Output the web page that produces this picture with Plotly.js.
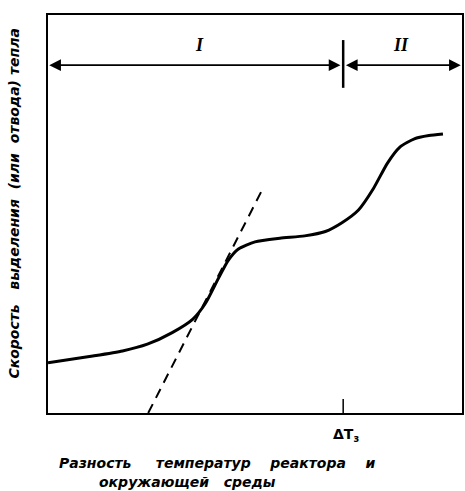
<!DOCTYPE html>
<html><head><meta charset="utf-8">
<script src="https://cdn.plot.ly/plotly-3.0.1.min.js"></script>
<style>html,body{margin:0;padding:0;background:#fff}#chart{width:465px;height:491px}</style>
</head><body><div id="chart"></div>
<script>
// Heat release curve (arbitrary units, x: 0..100, y: 0..100)
const curveX = [0, 10, 18, 24, 30, 35, 38, 41, 43.5, 46, 50, 56, 62, 67, 71, 75, 78.5, 82, 85, 88.5, 92, 95.4];
const curveY = [12.6, 14.2, 15.6, 17.3, 20.2, 23.6, 27.5, 33.5, 38.3, 41.2, 43.0, 43.9, 44.5, 45.6, 47.8, 51.0, 56.2, 62.8, 66.8, 68.9, 69.7, 70.1];
// Tangent (dashed)
const tangentX = [24.2, 51.7];
const tangentY = [0, 56.0];
// Regions
const regionLabels = ['I', 'II'];
const regionStart = 0, regionSplit = 71.3, regionEnd = 100;
const arrowY = 87.4;
const criticalLabel = 'ΔT<sub>з</sub>';

const FONT = 'DejaVu Sans';
const traces = [
  {x: curveX, y: curveY, mode: 'lines', line: {color: '#000', width: 3, shape: 'spline', smoothing: 0.6}, hoverinfo: 'skip'},
  {x: tangentX, y: tangentY, mode: 'lines', line: {color: '#000', width: 2, dash: '10px,7px'}, hoverinfo: 'skip'}
];

const arrowCommon = {xref: 'x', yref: 'y', axref: 'x', ayref: 'y', text: '', showarrow: true,
  arrowhead: 2, startarrowhead: 2, arrowside: 'end+start', arrowsize: 1.3, arrowwidth: 1.8, arrowcolor: '#000'};

const layout = {
  width: 465, height: 491,
  margin: {l: 48, r: 3, t: 15, b: 78},
  paper_bgcolor: '#fff', plot_bgcolor: '#fff',
  showlegend: false,
  xaxis: {range: [0, 100], showgrid: false, zeroline: false, showticklabels: false, ticks: '',
          showline: true, mirror: true, linecolor: '#000', linewidth: 2, fixedrange: true},
  yaxis: {range: [0, 100], showgrid: false, zeroline: false, showticklabels: false, ticks: '',
          showline: true, mirror: true, linecolor: '#000', linewidth: 2, fixedrange: true},
  shapes: [
    {type: 'line', xref: 'x', yref: 'y', x0: regionSplit, x1: regionSplit, y0: 81.7, y1: 93.7, line: {color: '#000', width: 2.5}},
    {type: 'line', xref: 'x', yref: 'y', x0: regionSplit, x1: regionSplit, y0: 0, y1: 3.5, line: {color: '#000', width: 1.5}}
  ],
  annotations: [
    Object.assign({}, arrowCommon, {x: regionStart + 0.3, y: arrowY, ax: regionSplit - 0.3, ay: arrowY}),
    Object.assign({}, arrowCommon, {x: regionEnd - 0.3, y: arrowY, ax: regionSplit + 0.3, ay: arrowY}),
    {xref: 'x', yref: 'y', x: 36.7, y: 92.5, text: '<b><i>' + regionLabels[0] + '</i></b>', showarrow: false,
     font: {family: 'Liberation Serif', size: 18, color: '#000'}},
    {xref: 'x', yref: 'y', x: 85.3, y: 92.5, text: '<b><i>' + regionLabels[1] + '</i></b>', showarrow: false,
     font: {family: 'Liberation Serif', size: 18, color: '#000'}},
    {xref: 'x', yref: 'paper', x: regionSplit + 0.8, y: -0.055, yanchor: 'middle', text: '<b>' + criticalLabel + '</b>', showarrow: false,
     font: {family: FONT, size: 14, color: '#000'}},
    {xref: 'paper', yref: 'paper', x: -0.105, y: 0.525, text: '<b><i>Скорость   выделения  (или  отвода) тепла</i></b>', textangle: -90,
     showarrow: false, font: {family: FONT, size: 14, color: '#000'}},
    {xref: 'paper', yref: 'paper', x: 0.022, xanchor: 'left', y: -0.126, yanchor: 'middle', text: '<b><i>Разность     температур    реактора    и</i></b>',
     showarrow: false, font: {family: FONT, size: 14, color: '#000'}},
    {xref: 'paper', yref: 'paper', x: 0.118, xanchor: 'left', y: -0.174, yanchor: 'middle', text: '<b><i>окружающей   среды</i></b>',
     showarrow: false, font: {family: FONT, size: 14, color: '#000'}}
  ]
};

Plotly.newPlot('chart', traces, layout, {staticPlot: true, displayModeBar: false});
</script>
</body></html>
